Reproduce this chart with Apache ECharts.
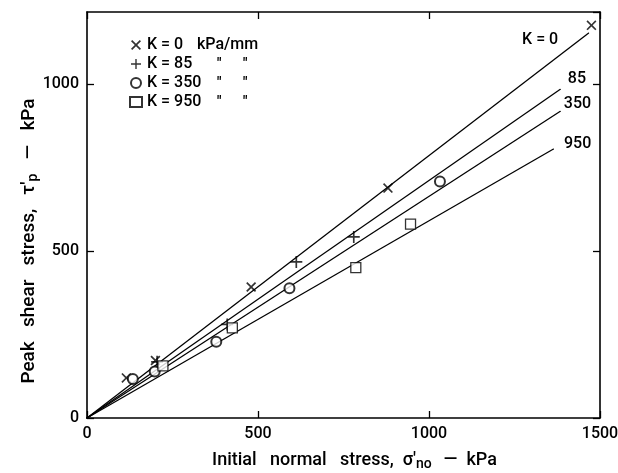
<!DOCTYPE html>
<html>
<head>
<meta charset="utf-8">
<script src="https://cdn.jsdelivr.net/npm/echarts@6/dist/echarts.min.js"></script>
<style>
  html, body { margin: 0; padding: 0; background: #fff; }
  #chart { width: 618px; height: 473px; }
</style>
</head>
<body>
<div id="chart"></div>
<script>
const k0Points = [[115, 120], [200, 172], [480, 392], [880, 688], [1475, 1175]];
const k85Points = [[205, 168], [410, 280], [612, 467], [780, 542]];
const k350Points = [[134, 117], [198, 139], [378, 228], [592, 388], [1032, 708]];
const k950Points = [[222, 156], [425, 270], [786, 450], [946, 580]];

// fitted lines through the origin: end point of each line
const lineNames = ['K = 0', '85', '350', '950'];
const lineEndX = [1467, 1384, 1384, 1364];
const lineEndY = [1152, 984, 918, 805];

const xTicks = [0, 500, 1000, 1500];
const yTicks = [0, 500, 1000];

const font = 'Roboto, Liberation Sans, Arial, sans-serif';
const weight = 500;

// symbols drawn as filled outlines so they look like pen strokes
const crossX = 'path://M0,1.2 L1.2,0 L5,3.8 L8.8,0 L10,1.2 L6.2,5 L10,8.8 L8.8,10 L5,6.2 L1.2,10 L0,8.8 L3.8,5 Z';
const crossPlus = 'path://M4.3,0 H5.7 V4.3 H10 V5.7 H5.7 V10 H4.3 V5.7 H0 V4.3 H4.3 Z';

const chart = echarts.init(document.getElementById('chart'));

// where each fit label sits relative to the line end
const labelSpots = [
  { position: 'left', offset: [-25, 7] },
  { position: 'right', offset: [2, -10] },
  { position: 'right', offset: [-2, -7] },
  { position: 'right', offset: [5, -5] }
];

const txt = (size, extra) => Object.assign(
  { color: '#000', fontSize: size, fontWeight: weight, fontFamily: font }, extra || {});

const fitSeries = lineNames.map((nm, i) => ({
  name: 'fit ' + nm,
  type: 'line',
  data: [
    [0, 0],
    {
      value: [lineEndX[i], lineEndY[i]],
      label: txt(16, {
        show: true,
        formatter: nm,
        position: labelSpots[i].position,
        offset: labelSpots[i].offset
      })
    }
  ],
  symbol: 'circle',
  symbolSize: 1,
  showSymbol: true,
  itemStyle: { color: '#000' },
  lineStyle: { color: '#000', width: 1.3 },
  silent: true,
  z: 2
}));

const pointSeries = [
  { name: 'K = 0', data: k0Points, symbol: crossX, symbolSize: 10,
    itemStyle: { color: '#000' } },
  { name: 'K = 85', data: k85Points, symbol: crossPlus, symbolSize: 12,
    itemStyle: { color: '#000' } },
  { name: 'K = 350', data: k350Points, symbol: 'emptyCircle', symbolSize: 10,
    itemStyle: { color: '#000', borderWidth: 1.1 } },
  { name: 'K = 950', data: k950Points, symbol: 'rect', symbolSize: 10,
    itemStyle: { color: '#fff', borderColor: '#000', borderWidth: 1.3 } }
].map(s => Object.assign({ type: 'scatter', z: 3 }, s));

const legendText = {
  'K = 0': '{k0|K = 0}{u|kPa/mm}',
  'K = 85': '{k|K = 85}{d|"}{d|"}',
  'K = 350': '{k|K = 350}{d|"}{d|"}',
  'K = 950': '{k|K = 950}{d|"}{d|"}'
};

const tickStyle = { show: true, inside: true, length: 7, lineStyle: { color: '#000', width: 1.3 } };
const lineStyle = { show: true, onZero: false, lineStyle: { color: '#000', width: 1.6 } };

const option = {
  backgroundColor: '#fff',
  animation: false,
  grid: { left: 87, right: 18, top: 12, bottom: 55, outerBoundsMode: 'none' },
  legend: {
    orient: 'vertical',
    left: 124,
    top: 32,
    itemGap: 3,
    itemWidth: 12,
    itemHeight: 10,
    data: ['K = 0', 'K = 85', 'K = 350', 'K = 950'],
    formatter: nm => legendText[nm],
    textStyle: txt(16, {
      rich: {
        k0: txt(16, { width: 50 }),
        k: txt(16, { width: 70 }),
        u: txt(16),
        d: txt(14, { width: 26, fontWeight: 'bold' })
      }
    })
  },
  xAxis: [
    {
      type: 'value', min: 0, max: 1500, interval: 500,
      axisLine: lineStyle, axisTick: tickStyle, splitLine: { show: false },
      axisLabel: txt(16, {
        margin: 8,
        formatter: v => (xTicks.includes(v) ? String(v) : '')
      }),
      name: 'Initial   normal   stress,  σ′{sub|no}  —  kPa',
      nameLocation: 'middle',
      nameGap: 31,
      nameTextStyle: txt(18, {
        padding: [0, 0, 0, 22],
        rich: { sub: txt(14, { padding: [8, 3, 0, 0] }) }
      })
    },
    {
      type: 'value', position: 'top', min: 0, max: 1500, interval: 500,
      axisLine: lineStyle, axisTick: tickStyle, axisLabel: { show: false }, splitLine: { show: false }
    }
  ],
  yAxis: [
    {
      type: 'value', min: 0, max: 1215, interval: 500,
      axisLine: lineStyle, axisTick: tickStyle, splitLine: { show: false },
      axisLabel: txt(16, {
        margin: 8, showMaxLabel: false,
        formatter: v => (yTicks.includes(v) ? String(v) : '')
      }),
      name: 'Peak   shear   stress,   τ′{sub|p}   —   kPa',
      nameLocation: 'middle',
      nameGap: 47,
      nameMoveOverlap: false,
      nameRotate: 90,
      nameTextStyle: txt(19, {
        padding: [0, 52, 0, 0],
        rich: { sub: txt(14, { padding: [8, 0, 0, 0] }) }
      })
    },
    {
      type: 'value', position: 'right', min: 0, max: 1215, interval: 500,
      axisLine: lineStyle, axisTick: tickStyle, axisLabel: { show: false }, splitLine: { show: false }
    }
  ],
  series: fitSeries.concat(pointSeries)
};

chart.setOption(option);
window.addEventListener('resize', () => chart.resize());
</script>
</body>
</html>
